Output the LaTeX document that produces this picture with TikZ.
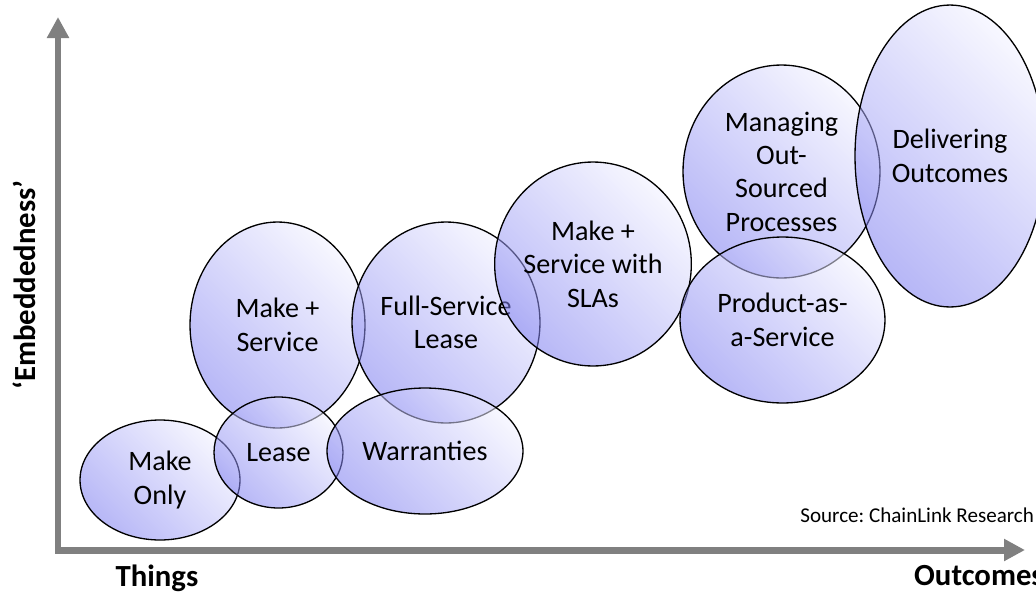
\documentclass[tikz,border=0pt]{standalone}
\usepackage{fontspec}
\setmainfont{Carlito}
\usetikzlibrary{shapes.geometric,arrows.meta}
\definecolor{bubbledark}{RGB}{125,125,240}
\definecolor{bubblelight}{RGB}{240,240,255}
\definecolor{axisgray}{RGB}{128,128,128}
\tikzset{
    bubble/.style = {ellipse, draw, line width=0.75pt, inner sep=0pt,
        bottom color=bubbledark, top color=bubblelight, shading angle=-45,
        fill opacity=0.55, text opacity=1, align=center,
        font=\fontsize{16}{19}\selectfont},
    axisline/.style = {draw=axisgray, line width=0.14cm, line join=miter,
        >={Triangle[length=0.42cm,width=0.42cm]}, <->},
    axislabel/.style = {font=\fontsize{17.5}{20}\bfseries}
}

\begin{document}
\begin{tikzpicture}[x=0.02cm, y=-0.02cm]
    \useasboundingbox (0,0) rectangle (1036,596);

    % axes
    \coordinate (ytip) at (58,17);
    \coordinate (origin) at (58,550);
    \coordinate (xtip) at (1025,550);
    \draw [axisline] (ytip) -- (origin) -- (xtip);
    \node [axislabel, rotate=90] (ylab) at (24,285) {‘Embeddedness’};
    \node [axislabel] (things) at (157,578) {Things};
    \node [axislabel, anchor=base west] (outcomes) at (908,585) {Outcomes};
    \node [anchor=base west, inner sep=0pt, font=\fontsize{12}{14}\selectfont\frenchspacing] (source) at (800,522) {Source: ChainLink Research};

    % service bubbles
    \node [bubble, minimum width=3.5cm, minimum height=4.12cm] (makesvc) at (277.5,325) {Make +\\Service};
    \node [bubble, minimum width=3.76cm, minimum height=4.02cm] (fullsvc) at (446,322.5) {Full-Service\\Lease};
    \node [bubble, minimum width=3.2cm, minimum height=2.4cm] (makeonly) at (160,480) {Make\\Only};
    \node [bubble, minimum width=2.58cm, minimum height=2.22cm] (lease) at (278.5,452.5) {Lease};
    \node [bubble, minimum width=3.92cm, minimum height=2.52cm] (warranty) at (425,451) {Warranties};
    \node [bubble, minimum width=3.58cm, minimum height=4.08cm] (sla) at (593,264) {Make +\\Service with\\SLAs};
    \node [bubble, minimum width=3.94cm, minimum height=4.26cm] (outsrc) at (781.5,171.5) {Managing\\Out-\\Sourced\\Processes};
    \node [bubble, minimum width=4.1cm, minimum height=3.32cm] (paas) at (782.5,320) {Product-as-\\a-Service};
    \node [bubble, minimum width=3.8cm, minimum height=6.04cm] (deliver) at (950,156) {Delivering\\Outcomes};
\end{tikzpicture}
\end{document}
